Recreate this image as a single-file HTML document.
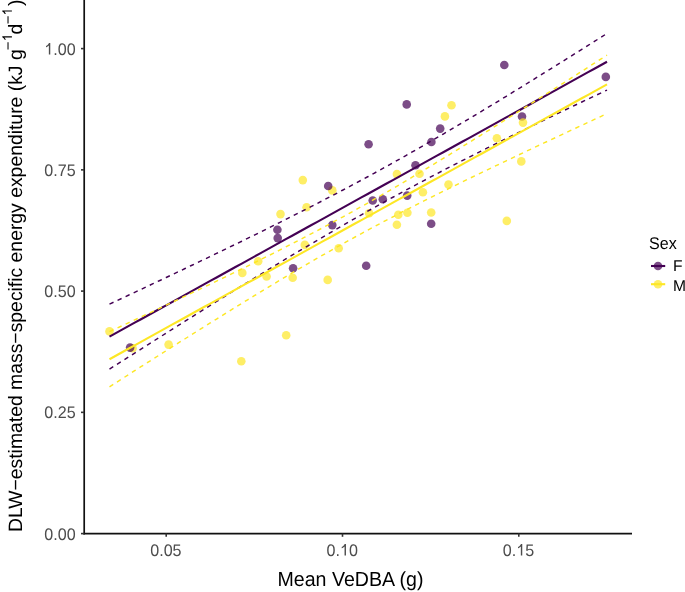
<!DOCTYPE html><html><head><meta charset="utf-8"><style>html,body{margin:0;padding:0;background:#fff;}svg{display:block;will-change:transform;}text{text-rendering:geometricPrecision;font-family:"Liberation Sans",sans-serif;}</style></head><body>
<svg width="685" height="592" viewBox="0 0 685 592">
<rect width="685" height="592" fill="#fff"/>
<defs><path id="one" d="M763,0 L583,0 L583,1147 C518,1085 433,1023 331,976 C271,948 223,930 223,930 L223,1104 C305,1143 379,1194 450,1256 C521,1318 571,1388 606,1466 L763,1466 Z"/></defs>
<circle cx="109.5" cy="331.4" r="4.3" fill="#FDE725" fill-opacity="0.7"/>
<circle cx="132.6" cy="348.3" r="4.3" fill="#FDE725" fill-opacity="0.7"/>
<circle cx="168.6" cy="344.6" r="4.3" fill="#FDE725" fill-opacity="0.7"/>
<circle cx="241.3" cy="361.2" r="4.3" fill="#FDE725" fill-opacity="0.7"/>
<circle cx="242.3" cy="272.9" r="4.3" fill="#FDE725" fill-opacity="0.7"/>
<circle cx="258.2" cy="261.2" r="4.3" fill="#FDE725" fill-opacity="0.7"/>
<circle cx="266.6" cy="276.5" r="4.3" fill="#FDE725" fill-opacity="0.7"/>
<circle cx="280.5" cy="214.1" r="4.3" fill="#FDE725" fill-opacity="0.7"/>
<circle cx="286.2" cy="335.3" r="4.3" fill="#FDE725" fill-opacity="0.7"/>
<circle cx="292.7" cy="277.8" r="4.3" fill="#FDE725" fill-opacity="0.7"/>
<circle cx="302.8" cy="180.1" r="4.3" fill="#FDE725" fill-opacity="0.7"/>
<circle cx="304.8" cy="244.9" r="4.3" fill="#FDE725" fill-opacity="0.7"/>
<circle cx="306.6" cy="207.2" r="4.3" fill="#FDE725" fill-opacity="0.7"/>
<circle cx="327.7" cy="279.9" r="4.3" fill="#FDE725" fill-opacity="0.7"/>
<circle cx="332.3" cy="190.4" r="4.3" fill="#FDE725" fill-opacity="0.7"/>
<circle cx="338.7" cy="248.2" r="4.3" fill="#FDE725" fill-opacity="0.7"/>
<circle cx="369.1" cy="213.3" r="4.3" fill="#FDE725" fill-opacity="0.7"/>
<circle cx="396.9" cy="174.1" r="4.3" fill="#FDE725" fill-opacity="0.7"/>
<circle cx="396.9" cy="224.8" r="4.3" fill="#FDE725" fill-opacity="0.7"/>
<circle cx="398.3" cy="214.7" r="4.3" fill="#FDE725" fill-opacity="0.7"/>
<circle cx="407.4" cy="212.8" r="4.3" fill="#FDE725" fill-opacity="0.7"/>
<circle cx="419.5" cy="173.8" r="4.3" fill="#FDE725" fill-opacity="0.7"/>
<circle cx="422.9" cy="192.2" r="4.3" fill="#FDE725" fill-opacity="0.7"/>
<circle cx="431.2" cy="212.5" r="4.3" fill="#FDE725" fill-opacity="0.7"/>
<circle cx="444.9" cy="116.4" r="4.3" fill="#FDE725" fill-opacity="0.7"/>
<circle cx="448.5" cy="184.5" r="4.3" fill="#FDE725" fill-opacity="0.7"/>
<circle cx="451.5" cy="105.2" r="4.3" fill="#FDE725" fill-opacity="0.7"/>
<circle cx="496.9" cy="138.2" r="4.3" fill="#FDE725" fill-opacity="0.7"/>
<circle cx="506.8" cy="220.9" r="4.3" fill="#FDE725" fill-opacity="0.7"/>
<circle cx="521.3" cy="161.4" r="4.3" fill="#FDE725" fill-opacity="0.7"/>
<circle cx="130.1" cy="347.6" r="4.3" fill="#440154" fill-opacity="0.7"/>
<circle cx="277.4" cy="229.8" r="4.3" fill="#440154" fill-opacity="0.7"/>
<circle cx="277.7" cy="238.1" r="4.3" fill="#440154" fill-opacity="0.7"/>
<circle cx="293.1" cy="268.3" r="4.3" fill="#440154" fill-opacity="0.7"/>
<circle cx="328.2" cy="186.0" r="4.3" fill="#440154" fill-opacity="0.7"/>
<circle cx="332.3" cy="225.1" r="4.3" fill="#440154" fill-opacity="0.7"/>
<circle cx="366.2" cy="265.8" r="4.3" fill="#440154" fill-opacity="0.7"/>
<circle cx="368.6" cy="144.2" r="4.3" fill="#440154" fill-opacity="0.7"/>
<circle cx="372.7" cy="200.5" r="4.3" fill="#440154" fill-opacity="0.7"/>
<circle cx="382.8" cy="199.3" r="4.3" fill="#440154" fill-opacity="0.7"/>
<circle cx="406.7" cy="104.4" r="4.3" fill="#440154" fill-opacity="0.7"/>
<circle cx="407.2" cy="195.6" r="4.3" fill="#440154" fill-opacity="0.7"/>
<circle cx="415.5" cy="165.2" r="4.3" fill="#440154" fill-opacity="0.7"/>
<circle cx="431.2" cy="223.8" r="4.3" fill="#440154" fill-opacity="0.7"/>
<circle cx="431.4" cy="142.0" r="4.3" fill="#440154" fill-opacity="0.7"/>
<circle cx="440.2" cy="128.6" r="4.3" fill="#440154" fill-opacity="0.7"/>
<circle cx="504.3" cy="65.0" r="4.3" fill="#440154" fill-opacity="0.7"/>
<circle cx="522.0" cy="116.5" r="4.3" fill="#440154" fill-opacity="0.7"/>
<circle cx="605.8" cy="76.9" r="4.3" fill="#440154" fill-opacity="0.7"/>
<circle cx="523.0" cy="122.6" r="4.3" fill="#FDE725" fill-opacity="0.7"/>
<path d="M109.50,336.62 L115.80,333.14 L122.09,329.66 L128.39,326.18 L134.69,322.70 L140.99,319.22 L147.28,315.74 L153.58,312.26 L159.88,308.78 L166.18,305.30 L172.47,301.83 L178.77,298.35 L185.07,294.87 L191.37,291.39 L197.66,287.91 L203.96,284.43 L210.26,280.95 L216.56,277.47 L222.85,273.99 L229.15,270.51 L235.45,267.03 L241.75,263.55 L248.04,260.08 L254.34,256.60 L260.64,253.12 L266.94,249.64 L273.23,246.16 L279.53,242.68 L285.83,239.20 L292.13,235.72 L298.42,232.24 L304.72,228.76 L311.02,225.28 L317.32,221.80 L323.61,218.33 L329.91,214.85 L336.21,211.37 L342.51,207.89 L348.80,204.41 L355.10,200.93 L361.40,197.45 L367.70,193.97 L373.99,190.49 L380.29,187.01 L386.59,183.53 L392.89,180.05 L399.18,176.58 L405.48,173.10 L411.78,169.62 L418.08,166.14 L424.37,162.66 L430.67,159.18 L436.97,155.70 L443.27,152.22 L449.56,148.74 L455.86,145.26 L462.16,141.78 L468.46,138.30 L474.75,134.83 L481.05,131.35 L487.35,127.87 L493.65,124.39 L499.94,120.91 L506.24,117.43 L512.54,113.95 L518.84,110.47 L525.13,106.99 L531.43,103.51 L537.73,100.03 L544.03,96.55 L550.32,93.08 L556.62,89.60 L562.92,86.12 L569.22,82.64 L575.51,79.16 L581.81,75.68 L588.11,72.20 L594.41,68.72 L600.70,65.24 L607.00,61.76" fill="none" stroke="#440154" stroke-width="2.1"/>
<path d="M109.50,304.12 L115.80,301.18 L122.09,298.23 L128.39,295.28 L134.69,292.33 L140.99,289.37 L147.28,286.41 L153.58,283.44 L159.88,280.47 L166.18,277.49 L172.47,274.51 L178.77,271.52 L185.07,268.52 L191.37,265.52 L197.66,262.52 L203.96,259.50 L210.26,256.48 L216.56,253.45 L222.85,250.41 L229.15,247.36 L235.45,244.30 L241.75,241.23 L248.04,238.15 L254.34,235.06 L260.64,231.96 L266.94,228.84 L273.23,225.72 L279.53,222.57 L285.83,219.42 L292.13,216.25 L298.42,213.06 L304.72,209.86 L311.02,206.63 L317.32,203.39 L323.61,200.13 L329.91,196.86 L336.21,193.56 L342.51,190.24 L348.80,186.90 L355.10,183.53 L361.40,180.15 L367.70,176.74 L373.99,173.30 L380.29,169.85 L386.59,166.37 L392.89,162.87 L399.18,159.34 L405.48,155.79 L411.78,152.22 L418.08,148.63 L424.37,145.01 L430.67,141.38 L436.97,137.72 L443.27,134.04 L449.56,130.34 L455.86,126.62 L462.16,122.89 L468.46,119.13 L474.75,115.36 L481.05,111.58 L487.35,107.78 L493.65,103.96 L499.94,100.13 L506.24,96.29 L512.54,92.43 L518.84,88.56 L525.13,84.68 L531.43,80.79 L537.73,76.89 L544.03,72.99 L550.32,69.07 L556.62,65.14 L562.92,61.21 L569.22,57.26 L575.51,53.31 L581.81,49.36 L588.11,45.39 L594.41,41.42 L600.70,37.45 L607.00,33.47" fill="none" stroke="#440154" stroke-width="1.45" stroke-dasharray="4.445 4.445"/>
<path d="M109.50,369.11 L115.80,365.10 L122.09,361.08 L128.39,357.08 L134.69,353.07 L140.99,349.07 L147.28,345.08 L153.58,341.08 L159.88,337.10 L166.18,333.12 L172.47,329.14 L178.77,325.17 L185.07,321.21 L191.37,317.25 L197.66,313.30 L203.96,309.36 L210.26,305.42 L216.56,301.50 L222.85,297.58 L229.15,293.67 L235.45,289.77 L241.75,285.88 L248.04,282.00 L254.34,278.13 L260.64,274.28 L266.94,270.43 L273.23,266.60 L279.53,262.78 L285.83,258.98 L292.13,255.20 L298.42,251.42 L304.72,247.67 L311.02,243.93 L317.32,240.22 L323.61,236.52 L329.91,232.84 L336.21,229.18 L342.51,225.54 L348.80,221.92 L355.10,218.33 L361.40,214.76 L367.70,211.21 L373.99,207.68 L380.29,204.18 L386.59,200.70 L392.89,197.24 L399.18,193.81 L405.48,190.40 L411.78,187.01 L418.08,183.65 L424.37,180.30 L430.67,176.98 L436.97,173.68 L443.27,170.40 L449.56,167.14 L455.86,163.90 L462.16,160.68 L468.46,157.48 L474.75,154.29 L481.05,151.12 L487.35,147.96 L493.65,144.82 L499.94,141.69 L506.24,138.57 L512.54,135.47 L518.84,132.38 L525.13,129.30 L531.43,126.23 L537.73,123.17 L544.03,120.12 L550.32,117.08 L556.62,114.05 L562.92,111.03 L569.22,108.01 L575.51,105.00 L581.81,102.00 L588.11,99.01 L594.41,96.02 L600.70,93.04 L607.00,90.06" fill="none" stroke="#440154" stroke-width="1.45" stroke-dasharray="4.445 4.445"/>
<path d="M109.50,359.23 L115.80,355.75 L122.09,352.27 L128.39,348.79 L134.69,345.31 L140.99,341.83 L147.28,338.35 L153.58,334.87 L159.88,331.39 L166.18,327.91 L172.47,324.43 L178.77,320.96 L185.07,317.48 L191.37,314.00 L197.66,310.52 L203.96,307.04 L210.26,303.56 L216.56,300.08 L222.85,296.60 L229.15,293.12 L235.45,289.64 L241.75,286.16 L248.04,282.68 L254.34,279.21 L260.64,275.73 L266.94,272.25 L273.23,268.77 L279.53,265.29 L285.83,261.81 L292.13,258.33 L298.42,254.85 L304.72,251.37 L311.02,247.89 L317.32,244.41 L323.61,240.93 L329.91,237.46 L336.21,233.98 L342.51,230.50 L348.80,227.02 L355.10,223.54 L361.40,220.06 L367.70,216.58 L373.99,213.10 L380.29,209.62 L386.59,206.14 L392.89,202.66 L399.18,199.18 L405.48,195.71 L411.78,192.23 L418.08,188.75 L424.37,185.27 L430.67,181.79 L436.97,178.31 L443.27,174.83 L449.56,171.35 L455.86,167.87 L462.16,164.39 L468.46,160.91 L474.75,157.43 L481.05,153.96 L487.35,150.48 L493.65,147.00 L499.94,143.52 L506.24,140.04 L512.54,136.56 L518.84,133.08 L525.13,129.60 L531.43,126.12 L537.73,122.64 L544.03,119.16 L550.32,115.69 L556.62,112.21 L562.92,108.73 L569.22,105.25 L575.51,101.77 L581.81,98.29 L588.11,94.81 L594.41,91.33 L600.70,87.85 L607.00,84.37" fill="none" stroke="#FDE725" stroke-width="2.1"/>
<path d="M109.50,331.63 L115.80,328.70 L122.09,325.77 L128.39,322.83 L134.69,319.90 L140.99,316.95 L147.28,314.00 L153.58,311.05 L159.88,308.09 L166.18,305.13 L172.47,302.16 L178.77,299.18 L185.07,296.20 L191.37,293.21 L197.66,290.21 L203.96,287.20 L210.26,284.18 L216.56,281.16 L222.85,278.12 L229.15,275.07 L235.45,272.01 L241.75,268.93 L248.04,265.84 L254.34,262.74 L260.64,259.62 L266.94,256.48 L273.23,253.32 L279.53,250.15 L285.83,246.95 L292.13,243.73 L298.42,240.49 L304.72,237.22 L311.02,233.93 L317.32,230.61 L323.61,227.26 L329.91,223.89 L336.21,220.48 L342.51,217.05 L348.80,213.58 L355.10,210.09 L361.40,206.57 L367.70,203.01 L373.99,199.43 L380.29,195.82 L386.59,192.18 L392.89,188.52 L399.18,184.83 L405.48,181.11 L411.78,177.38 L418.08,173.62 L424.37,169.84 L430.67,166.03 L436.97,162.22 L443.27,158.38 L449.56,154.53 L455.86,150.66 L462.16,146.77 L468.46,142.88 L474.75,138.97 L481.05,135.05 L487.35,131.12 L493.65,127.18 L499.94,123.23 L506.24,119.27 L512.54,115.30 L518.84,111.33 L525.13,107.35 L531.43,103.36 L537.73,99.37 L544.03,95.37 L550.32,91.36 L556.62,87.35 L562.92,83.34 L569.22,79.32 L575.51,75.29 L581.81,71.27 L588.11,67.23 L594.41,63.20 L600.70,59.16 L607.00,55.12" fill="none" stroke="#FDE725" stroke-width="1.45" stroke-dasharray="4.445 4.445"/>
<path d="M109.50,386.83 L115.80,382.79 L122.09,378.77 L128.39,374.74 L134.69,370.72 L140.99,366.71 L147.28,362.70 L153.58,358.69 L159.88,354.69 L166.18,350.70 L172.47,346.71 L178.77,342.73 L185.07,338.75 L191.37,334.79 L197.66,330.83 L203.96,326.88 L210.26,322.94 L216.56,319.01 L222.85,315.09 L229.15,311.18 L235.45,307.28 L241.75,303.40 L248.04,299.53 L254.34,295.67 L260.64,291.84 L266.94,288.02 L273.23,284.21 L279.53,280.43 L285.83,276.67 L292.13,272.93 L298.42,269.22 L304.72,265.53 L311.02,261.86 L317.32,258.22 L323.61,254.61 L329.91,251.03 L336.21,247.47 L342.51,243.95 L348.80,240.45 L355.10,236.99 L361.40,233.55 L367.70,230.15 L373.99,226.77 L380.29,223.42 L386.59,220.10 L392.89,216.81 L399.18,213.54 L405.48,210.30 L411.78,207.08 L418.08,203.88 L424.37,200.70 L430.67,197.54 L436.97,194.40 L443.27,191.28 L449.56,188.18 L455.86,185.09 L462.16,182.01 L468.46,178.95 L474.75,175.90 L481.05,172.86 L487.35,169.83 L493.65,166.82 L499.94,163.81 L506.24,160.81 L512.54,157.82 L518.84,154.83 L525.13,151.85 L531.43,148.88 L537.73,145.92 L544.03,142.96 L550.32,140.01 L556.62,137.06 L562.92,134.12 L569.22,131.18 L575.51,128.24 L581.81,125.31 L588.11,122.39 L594.41,119.46 L600.70,116.54 L607.00,113.62" fill="none" stroke="#FDE725" stroke-width="1.45" stroke-dasharray="4.445 4.445"/>
<line x1="84.2" y1="0" x2="84.2" y2="534.45" stroke="#111" stroke-width="1.7"/>
<line x1="83.35000000000001" y1="533.6" x2="632" y2="533.6" stroke="#111" stroke-width="1.7"/>
<line x1="81" y1="48.60" x2="84.2" y2="48.60" stroke="#333" stroke-width="1.6"/>
<text transform="translate(75.6,54.60) scale(1,1.04)" font-size="16.1" fill="#4D4D4D" text-anchor="end"> .00</text>
<use href="#one" transform="translate(44.27,54.60) scale(0.007861,-0.007861)" fill="#4D4D4D"/>
<line x1="81" y1="169.85" x2="84.2" y2="169.85" stroke="#333" stroke-width="1.6"/>
<text transform="translate(75.6,175.85) scale(1,1.04)" font-size="16.1" fill="#4D4D4D" text-anchor="end">0.75</text>

<line x1="81" y1="291.10" x2="84.2" y2="291.10" stroke="#333" stroke-width="1.6"/>
<text transform="translate(75.6,297.10) scale(1,1.04)" font-size="16.1" fill="#4D4D4D" text-anchor="end">0.50</text>

<line x1="81" y1="412.35" x2="84.2" y2="412.35" stroke="#333" stroke-width="1.6"/>
<text transform="translate(75.6,418.35) scale(1,1.04)" font-size="16.1" fill="#4D4D4D" text-anchor="end">0.25</text>

<line x1="81" y1="533.60" x2="84.2" y2="533.60" stroke="#333" stroke-width="1.6"/>
<text transform="translate(75.6,539.60) scale(1,1.04)" font-size="16.1" fill="#4D4D4D" text-anchor="end">0.00</text>

<line x1="166.2" y1="533.6" x2="166.2" y2="536.8000000000001" stroke="#333" stroke-width="1.6"/>
<text transform="translate(165.89999999999998,555.6) scale(1,1.04)" font-size="16.1" fill="#4D4D4D" text-anchor="middle">0.05</text>

<line x1="342.5" y1="533.6" x2="342.5" y2="536.8000000000001" stroke="#333" stroke-width="1.6"/>
<text transform="translate(342.2,555.6) scale(1,1.04)" font-size="16.1" fill="#4D4D4D" text-anchor="middle">0. 0</text>
<use href="#one" transform="translate(339.96,555.60) scale(0.007861,-0.007861)" fill="#4D4D4D"/>
<line x1="518.8" y1="533.6" x2="518.8" y2="536.8000000000001" stroke="#333" stroke-width="1.6"/>
<text transform="translate(518.5,555.6) scale(1,1.04)" font-size="16.1" fill="#4D4D4D" text-anchor="middle">0. 5</text>
<use href="#one" transform="translate(516.26,555.60) scale(0.007861,-0.007861)" fill="#4D4D4D"/>
<text transform="translate(277.5,585.8) scale(1,1.04)" font-size="19.6" fill="#000">Mean VeDBA (g)</text>
<g transform="translate(22.2,0) rotate(-90)" fill="#000"><text x="-532.1" y="0" font-size="19.38">DLW−estimated mass−specific energy expenditure (kJ g</text><text x="-50.34" y="-8.77" font-size="15.0">−</text><use href="#one" transform="translate(-41.23,-10.30) scale(0.006543,-0.006543)" fill="#000"/><text x="-34.6" y="0" font-size="19.38">d</text><text x="-24.2" y="-8.77" font-size="15.0">−</text><use href="#one" transform="translate(-15.38,-10.30) scale(0.006543,-0.006543)" fill="#000"/><text x="-6.0" y="0" font-size="19.38">)</text></g>
<text transform="translate(649.0,249.2) scale(1,1.05)" font-size="16.1" fill="#000">Sex</text>
<circle cx="658.0" cy="266.0" r="4.3" fill="#440154" fill-opacity="0.7"/>
<line x1="651" y1="266.0" x2="665.2" y2="266.0" stroke="#440154" stroke-width="2.1"/>
<text transform="translate(673.0,271.4) scale(1,1.0)" font-size="15.6" fill="#000">F</text>
<circle cx="658.0" cy="284.2" r="4.3" fill="#FDE725" fill-opacity="0.7"/>
<line x1="651" y1="284.2" x2="665.2" y2="284.2" stroke="#FDE725" stroke-width="2.1"/>
<text transform="translate(673.0,290.9) scale(1,1.0)" font-size="15.6" fill="#000">M</text>
</svg></body></html>
